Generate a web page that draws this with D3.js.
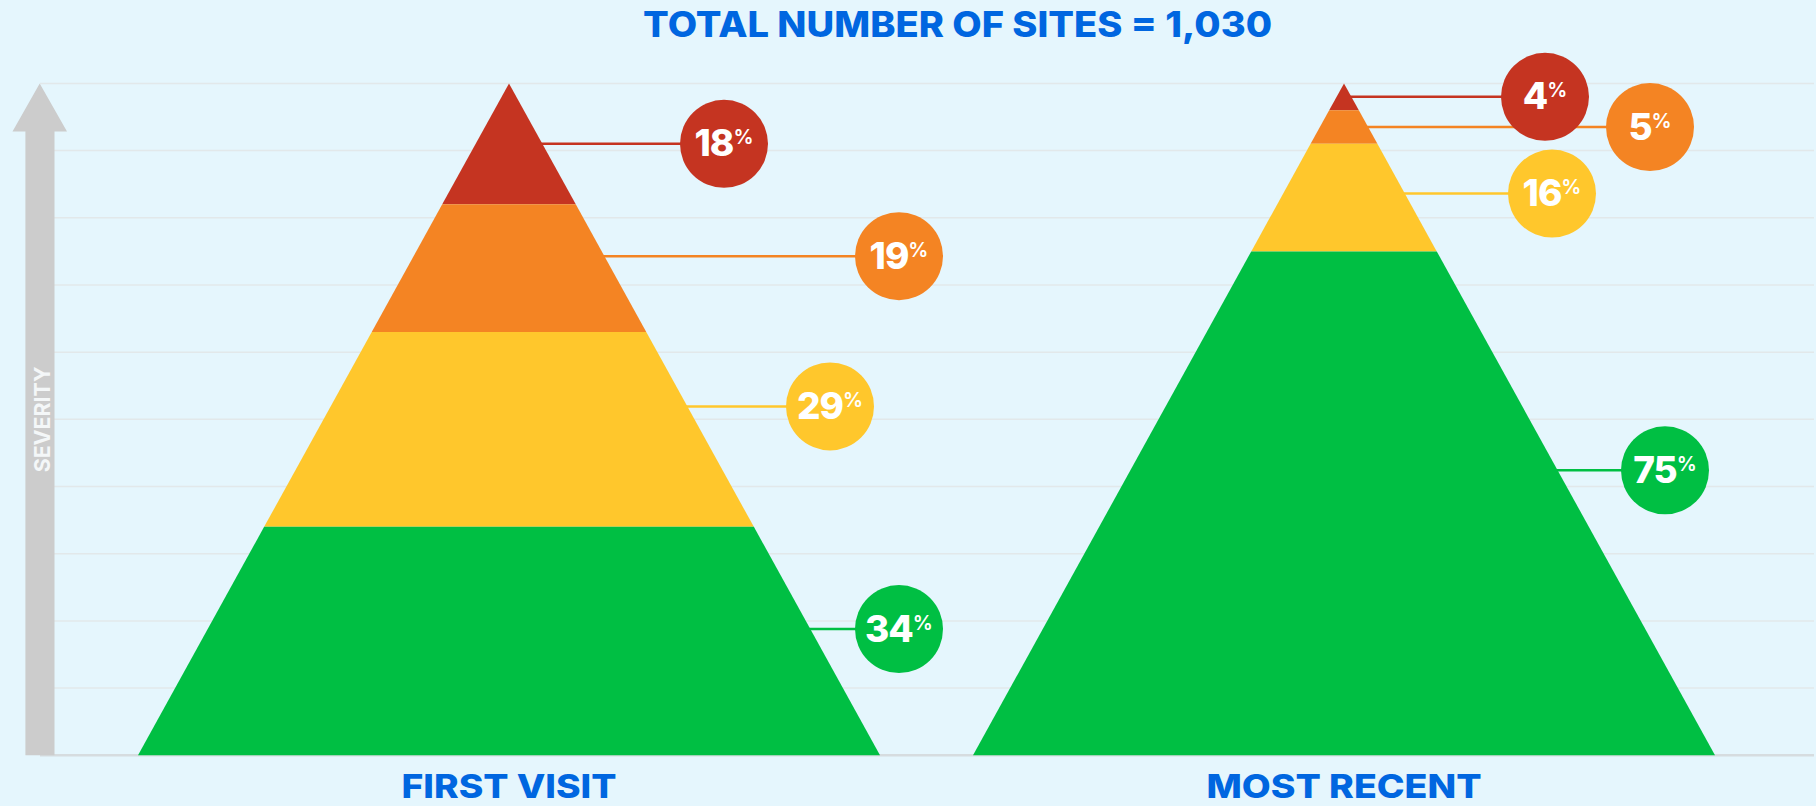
<!DOCTYPE html>
<html>
<head>
<meta charset="utf-8">
<script src="https://cdn.jsdelivr.net/npm/d3@7"></script>
<style>
  html, body { margin: 0; padding: 0; background: #e5f6fd; }
  svg { display: block; }
  text { font-family: "Inter", "Open Sans", sans-serif; }
</style>
</head>
<body>
<div id="chart"></div>
<script>
// visits along the x axis, severity levels listed top (worst) to bottom
const visits = ["FIRST VISIT", "MOST RECENT"];
const levels = ["Critical", "High", "Medium", "Low"];
const firstVisit = [18, 19, 29, 34];
const mostRecent = [4, 5, 16, 75];
const totalSites = "1,030";
const severityTicks = [0, 10, 20, 30, 40, 50, 60, 70, 80, 90, 100];

const colors = ["#c53421", "#f48423", "#ffc72c", "#00bf43"];

// where each bubble sits relative to pyramid center / band middle (px)
const bubbleLayout = [
  [{ dx: 215, dy: 0 }, { dx: 390, dy: -12 }, { dx: 321, dy: -23 }, { dx: 390, dy: -12 }],
  [{ dx: 201, dy: 0 }, { dx: 306, dy: 0 }, { dx: 208, dy: -4 }, { dx: 321, dy: -33 }]
];

function drawChart() {
  const width = 1816;
  const height = 806;

  const svg = d3.select("#chart")
    .append("svg")
    .attr("width", width)
    .attr("height", height);

  svg.append("rect")
    .attr("width", width)
    .attr("height", height)
    .attr("fill", "#e5f6fd");

  const y = d3.scaleLinear()
    .domain([0, 100])
    .range([755.3, 83.4]);

  const x = d3.scalePoint()
    .domain(visits)
    .range([509, 1344]);

  // half width of a pyramid at a given severity value
  const halfW = d3.scaleLinear()
    .domain([0, 100])
    .range([371, 0]);

  // gridlines
  svg.append("g")
    .selectAll("line")
    .data(severityTicks)
    .join("line")
    .attr("x1", 40)
    .attr("x2", 1814)
    .attr("y1", d => y(d))
    .attr("y2", d => y(d))
    .attr("stroke", d => d === 0 ? "#d6dcdf" : "#e2e8ea")
    .attr("stroke-width", d => d === 0 ? 2.5 : 1.5);

  // severity arrow
  const tipY = y(100), headY = y(100) + 48, baseY = y(0);
  svg.append("path")
    .attr("d", `M39.7,${tipY} L67,${headY} L54.5,${headY} L54.5,${baseY} L25.4,${baseY} L25.4,${headY} L12.5,${headY} Z`)
    .attr("fill", "#cccccc");

  svg.append("text")
    .attr("transform", `translate(50,${y(50)}) rotate(-90)`)
    .attr("text-anchor", "middle")
    .attr("font-size", 22)
    .attr("font-weight", 700)
    .attr("textLength", 106)
    .attr("lengthAdjust", "spacingAndGlyphs")
    .attr("fill", "#f4f7f8")
    .text("SEVERITY");

  const series = [firstVisit, mostRecent];
  const band = d3.line();

  series.forEach((vals, si) => {
    const cx = x(visits[si]);
    // stack from the apex downward
    let top = 100;
    const bands = vals.map((v, i) => {
      const b = { level: levels[i], value: v, hi: top, lo: top - v, i };
      top -= v;
      return b;
    });

    const g = svg.append("g");

    // leader lines go beneath pyramid
    bands.forEach(b => {
      const lay = bubbleLayout[si][b.i];
      const by = y((b.hi + b.lo) / 2) + lay.dy;
      g.append("line")
        .attr("x1", cx)
        .attr("x2", cx + lay.dx)
        .attr("y1", by)
        .attr("y2", by)
        .attr("stroke", colors[b.i])
        .attr("stroke-width", 2.5);
    });

    bands.forEach(b => {
      g.append("path")
        .attr("d", band([
          [cx - halfW(b.lo), y(b.lo)],
          [cx + halfW(b.lo), y(b.lo)],
          [cx + halfW(b.hi), y(b.hi)],
          [cx - halfW(b.hi), y(b.hi)]
        ]) + "Z")
        .attr("fill", colors[b.i]);
    });

    bands.forEach(b => {
      const lay = bubbleLayout[si][b.i];
      const bx = cx + lay.dx;
      const by = y((b.hi + b.lo) / 2) + lay.dy;
      g.append("circle")
        .attr("cx", bx)
        .attr("cy", by)
        .attr("r", 44)
        .attr("fill", colors[b.i]);
      const t = g.append("text")
        .attr("x", bx)
        .attr("y", by + 12.5)
        .attr("text-anchor", "middle")
        .attr("fill", "#ffffff")
        .attr("font-weight", 800);
      t.append("tspan")
        .attr("font-size", 37)
        .attr("letter-spacing", -1)
        .text(b.value);
      t.append("tspan")
        .attr("font-size", 20)
        .attr("font-weight", 600)
        .attr("dy", -12)
        .text("%");
    });

    svg.append("text")
      .attr("x", cx)
      .attr("y", 798)
      .attr("text-anchor", "middle")
      .attr("font-size", 33)
      .attr("font-weight", 800)
      .attr("textLength", si === 0 ? 215 : 275)
      .attr("lengthAdjust", "spacingAndGlyphs")
      .attr("fill", "#0066e0")
      .text(visits[si]);
  });

  svg.append("text")
    .attr("x", 957.6)
    .attr("y", 36.7)
    .attr("text-anchor", "middle")
    .attr("font-size", 35)
    .attr("font-weight", 800)
    .attr("textLength", 629)
    .attr("lengthAdjust", "spacingAndGlyphs")
    .attr("fill", "#0066e0")
    .text(`TOTAL NUMBER OF SITES = ${totalSites}`);
}

window.onload = drawChart;
</script>
</body>
</html>
